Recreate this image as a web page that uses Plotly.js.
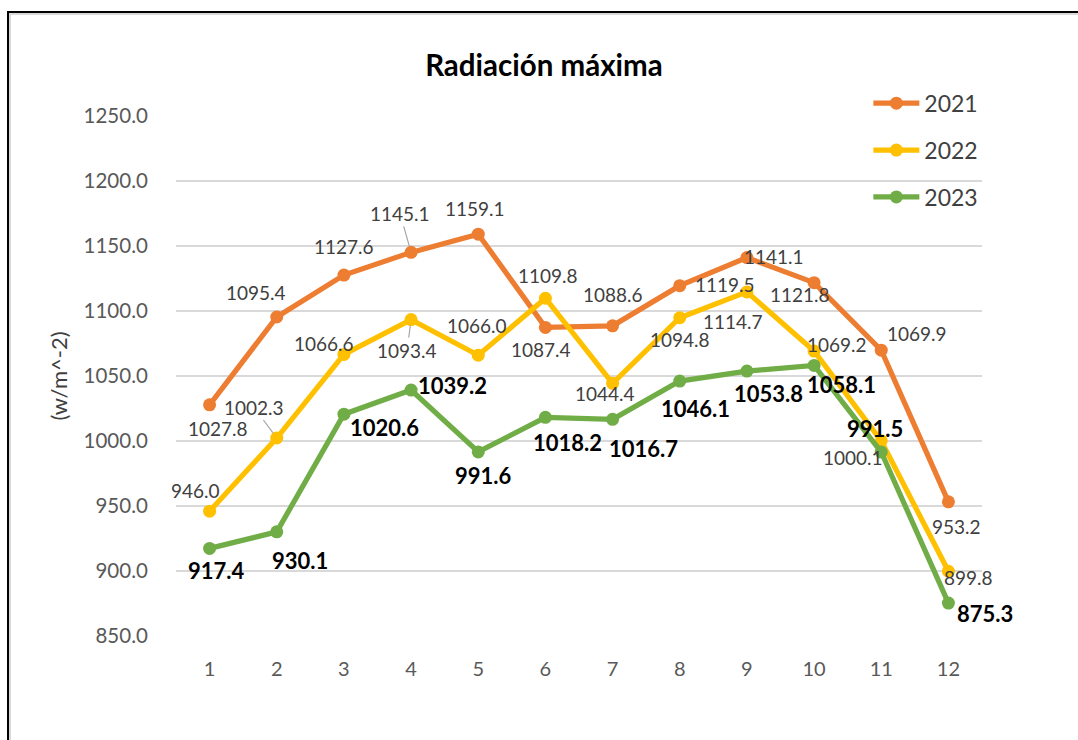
<!DOCTYPE html>
<html>
<head>
<meta charset="utf-8">
<script src="https://cdn.plot.ly/plotly-3.0.1.min.js"></script>
<style>
  html, body { margin: 0; padding: 0; background: #fff; overflow: hidden; }
  #chart { position: absolute; left: 0; top: 0; width: 1078px; height: 740px; }
  #frame { position: absolute; left: 7px; top: 11px; width: 1100px; height: 800px;
           border: 2.5px solid #000; box-shadow: inset 2px 2px 0 #d9d9d9; pointer-events: none; }
</style>
</head>
<body>
<div id="chart"></div>
<div id="frame"></div>
<script>
// ---- data ----
const months = [1, 2, 3, 4, 5, 6, 7, 8, 9, 10, 11, 12];
const seriesNames = ["2021", "2022", "2023"];
const y2021 = [1027.8, 1095.4, 1127.6, 1145.1, 1159.1, 1087.4, 1088.6, 1119.5, 1141.1, 1121.8, 1069.9, 953.2];
const y2022 = [946.0, 1002.3, 1066.6, 1093.4, 1066.0, 1109.8, 1044.4, 1094.8, 1114.7, 1069.2, 1000.1, 899.8];
const y2023 = [917.4, 930.1, 1020.6, 1039.2, 991.6, 1018.2, 1016.7, 1046.1, 1053.8, 1058.1, 991.5, 875.3];
const yTicks = [850, 900, 950, 1000, 1050, 1100, 1150, 1200, 1250];

// ---- styling (label placement offsets in px, not data) ----
const colors = ["#ED7D31", "#FFC000", "#70AD47"];
const off2021 = [[8,24],[-21,-24],[0,-29],[-11,-39],[-3,-26],[-4,22],[0,-31],[45,-1],[27,-1],[-14,12],[36,-17],[8,25]];
const off2022 = [[-14,-21],[-23,-31],[-20,-11],[-4,31],[-1,-30],[3,-23],[-8,10],[0,22],[-14,30],[23,-7],[-28,17],[20,6]];
const off2023 = [[7,22],[23,29],[41,13],[41,-5],[5,24],[22,25],[31,29],[16,27],[22,22],[27,19],[-6,-24],[37,10]];
const leader2021 = [3];      // indices with leader lines
const leader2022 = [1, 3];
const leader2023 = [];

const FONT = "Lato, 'Open Sans', sans-serif";
const allY = [y2021, y2022, y2023];
const allOff = [off2021, off2022, off2023];
const allLead = [leader2021, leader2022, leader2023];

const traces = allY.map((ys, k) => ({
  x: months, y: ys, name: seriesNames[k], type: "scatter", mode: "lines+markers",
  line: { color: colors[k], width: 5.2 },
  marker: { color: colors[k], size: 13 },
  legendgroup: "g" + k,
  hoverinfo: "x+y"
}));

const annotations = [];
allY.forEach((ys, k) => {
  ys.forEach((v, i) => {
    const lead = allLead[k].includes(i);
    const bold = (k === 2);
    annotations.push({
      x: months[i], y: v, xref: "x", yref: "y",
      text: v.toFixed(1),
      showarrow: true, arrowhead: 0, arrowwidth: 1.2,
      arrowcolor: lead ? "#a6a6a6" : "rgba(0,0,0,0)",
      standoff: lead ? 6 : 0,
      ax: allOff[k][i][0], ay: allOff[k][i][1],
      font: { family: FONT, size: bold ? 22 : 19, color: bold ? "#000000" : "#404040", weight: bold ? 700 : 400 }
    });
  });
});

const layout = {
  width: 1078, height: 740,
  margin: { l: 176, r: 96, t: 116, b: 104 },
  paper_bgcolor: "#ffffff", plot_bgcolor: "#ffffff",
  font: { family: FONT, color: "#595959" },
  title: { text: "Radiación máxima", x: 0.5046, xref: "container", y: 0.911, yref: "container",
           yanchor: "middle", xanchor: "center",
           font: { family: FONT, size: 29.5, color: "#000000", weight: 700 } },
  xaxis: {
    range: [0.5, 12.5], tickvals: months, ticktext: months.map(String),
    showgrid: false, zeroline: false, showline: false,
    ticks: "outside", ticklen: 15, tickcolor: "rgba(0,0,0,0)",
    tickfont: { family: FONT, size: 20, color: "#595959" }
  },
  yaxis: {
    range: [850, 1250], tickvals: yTicks, tickformat: ".1f",
    showgrid: true, gridcolor: "#d9d9d9", gridwidth: 2, zeroline: false, showline: false,
    ticks: "outside", ticklen: 23, tickcolor: "rgba(0,0,0,0)",
    tickfont: { family: FONT, size: 20.5, color: "#595959" },
    title: { text: "(w/m^-2)", standoff: 9, font: { family: FONT, size: 22, color: "#404040" } }
  },
  showlegend: true,
  legend: {
    x: 0.859, y: 1.066, xanchor: "left", yanchor: "top",
    bgcolor: "rgba(0,0,0,0)", borderwidth: 0,
    font: { family: FONT, size: 23, color: "#404040" },
    traceorder: "grouped", tracegroupgap: 14, itemwidth: 46
  },
  annotations: annotations
};

Plotly.newPlot("chart", traces, layout, { displayModeBar: false, staticPlot: true });
</script>
</body>
</html>
